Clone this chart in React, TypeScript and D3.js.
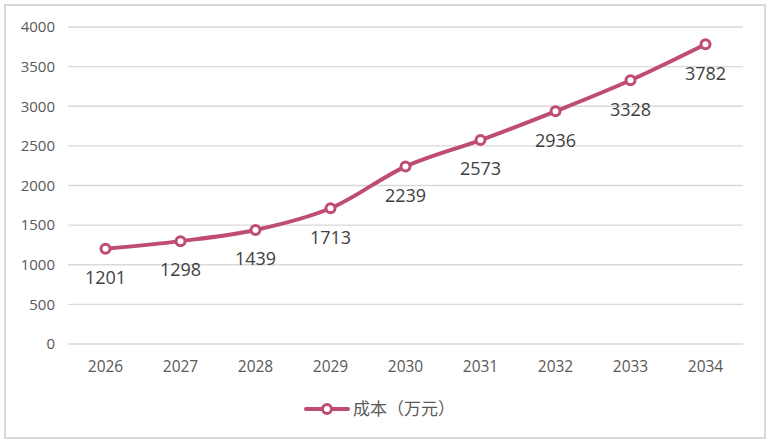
import React, { useEffect, useRef } from 'react';
import * as d3 from 'd3';

const years = ['2026', '2027', '2028', '2029', '2030', '2031', '2032', '2033', '2034'];
const costValues = [1201, 1298, 1439, 1713, 2239, 2573, 2936, 3328, 3782];
const yTicks = [0, 500, 1000, 1500, 2000, 2500, 3000, 3500, 4000];
const seriesName = '成本（万元）';

const App: React.FC = () => {
  const svgRef = useRef<SVGSVGElement>(null);

  useEffect(() => {
    if (!svgRef.current) return;
    const width = 770;
    const height = 443;
    const margin = { top: 27, right: 27, bottom: 99, left: 68 };
    const lineColor = '#bf4d70';
    const font = '"Open Sans", "Noto Sans", sans-serif';

    const svg = d3.select(svgRef.current).attr('width', width).attr('height', height);
    svg.selectAll('*').remove();

    // chart border
    svg
      .append('rect')
      .attr('x', 5)
      .attr('y', 5)
      .attr('width', width - 10)
      .attr('height', height - 10)
      .attr('fill', '#fff')
      .attr('stroke', '#d9d9d9')
      .attr('stroke-width', 2);

    const innerW = width - margin.left - margin.right;
    const innerH = height - margin.top - margin.bottom;
    const g = svg.append('g').attr('transform', `translate(${margin.left},${margin.top})`);

    const x = d3.scaleBand().domain(years).range([0, innerW]);
    const y = d3.scaleLinear().domain([0, 4000]).range([innerH, 0]);

    // grid lines
    g.selectAll('.grid-line')
      .data(yTicks)
      .enter()
      .append('line')
      .attr('x1', 0)
      .attr('x2', innerW)
      .attr('y1', (d) => y(d))
      .attr('y2', (d) => y(d))
      .attr('stroke', '#d9d9d9')
      .attr('stroke-width', 1.3);

    // y labels
    g.selectAll('.y-label')
      .data(yTicks)
      .enter()
      .append('text')
      .attr('x', -13)
      .attr('y', (d) => y(d))
      .attr('dy', '0.35em')
      .attr('text-anchor', 'end')
      .attr('fill', '#595959')
      .style('font-family', font)
      .style('font-size', '15px')
      .text((d) => d);

    // x labels
    g.selectAll('.x-label')
      .data(years)
      .enter()
      .append('text')
      .attr('x', (d) => (x(d) ?? 0) + x.bandwidth() / 2)
      .attr('y', innerH + 23)
      .attr('dy', '0.35em')
      .attr('text-anchor', 'middle')
      .attr('fill', '#595959')
      .style('font-family', font)
      .style('font-size', '15.5px')
      .text((d) => d);

    const points = years.map((yr, i) => ({ yr, v: costValues[i] }));
    const line = d3
      .line<{ yr: string; v: number }>()
      .x((d) => (x(d.yr) ?? 0) + x.bandwidth() / 2)
      .y((d) => y(d.v))
      .curve(d3.curveCatmullRom.alpha(0.5));

    g.append('path')
      .datum(points)
      .attr('d', line)
      .attr('fill', 'none')
      .attr('stroke', lineColor)
      .attr('stroke-width', 4)
      .attr('stroke-linecap', 'round');

    g.selectAll('.marker')
      .data(points)
      .enter()
      .append('circle')
      .attr('cx', (d) => (x(d.yr) ?? 0) + x.bandwidth() / 2)
      .attr('cy', (d) => y(d.v))
      .attr('r', 4.5)
      .attr('fill', '#fff')
      .attr('stroke', lineColor)
      .attr('stroke-width', 3);

    // data labels below points
    g.selectAll('.data-label')
      .data(points)
      .enter()
      .append('text')
      .attr('x', (d) => (x(d.yr) ?? 0) + x.bandwidth() / 2)
      .attr('y', (d) => y(d.v) + 29)
      .attr('dy', '0.35em')
      .attr('text-anchor', 'middle')
      .attr('fill', '#404040')
      .style('font-family', font)
      .style('font-size', '18px')
      .text((d) => d.v);

    // legend
    const legend = svg.append('g').attr('transform', `translate(306, 409)`);
    legend
      .append('line')
      .attr('x1', 0)
      .attr('x2', 42)
      .attr('y1', 0)
      .attr('y2', 0)
      .attr('stroke', lineColor)
      .attr('stroke-width', 4)
      .attr('stroke-linecap', 'round');
    legend
      .append('circle')
      .attr('cx', 21)
      .attr('cy', 0)
      .attr('r', 4.5)
      .attr('fill', '#fff')
      .attr('stroke', lineColor)
      .attr('stroke-width', 3);
    legend
      .append('text')
      .attr('x', 47)
      .attr('y', 0)
      .attr('dy', '0.35em')
      .attr('fill', '#595959')
      .style('font-family', '"Noto Sans CJK SC", sans-serif')
      .style('font-size', '17px')
      .text(seriesName);
  }, []);

  return (
    <svg ref={svgRef} style={{ position: 'absolute', left: 0, top: 0, display: 'block' }}></svg>
  );
};

export default App;
